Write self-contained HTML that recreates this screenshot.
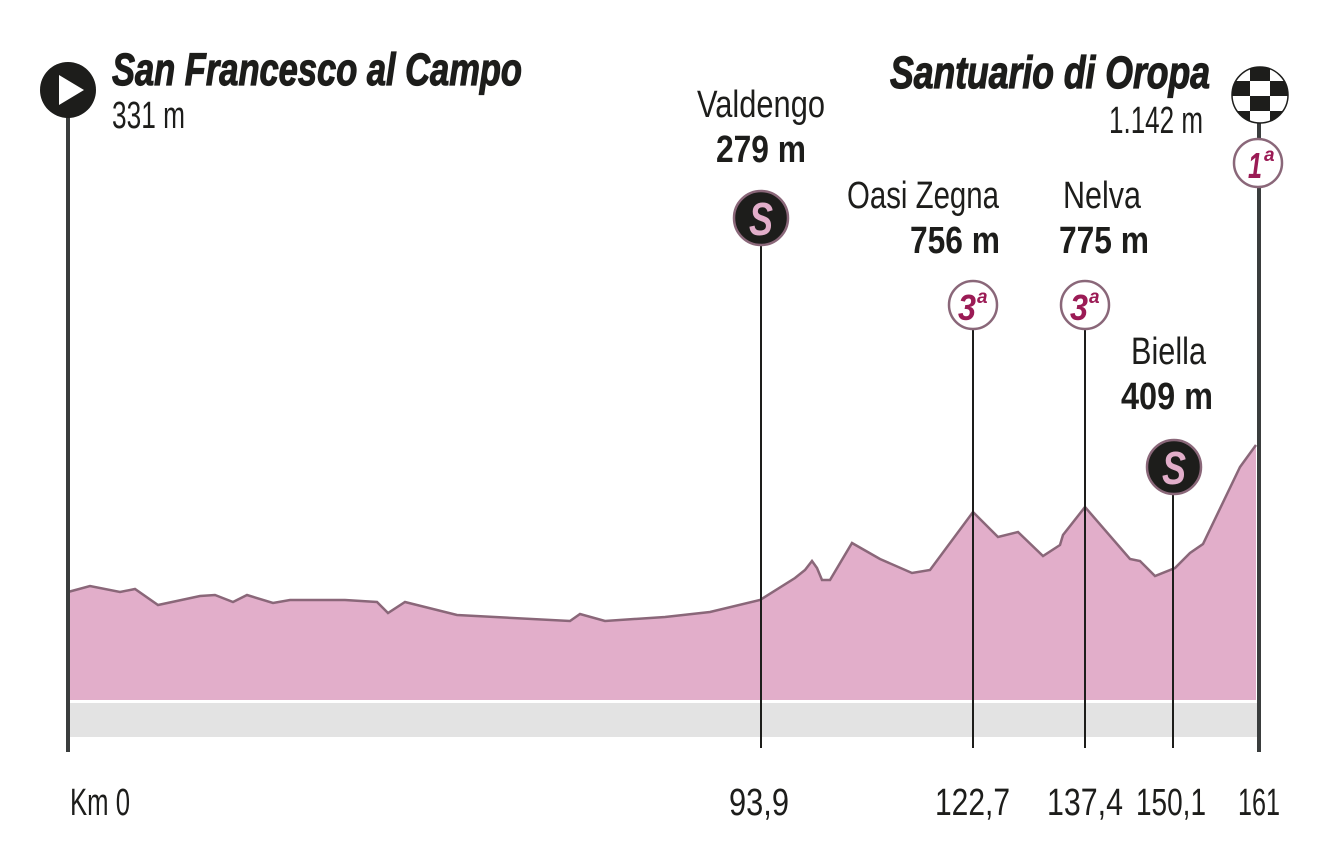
<!DOCTYPE html>
<html><head><meta charset="utf-8"><style>
html,body{margin:0;padding:0;background:#fff;}
svg{display:block;}
text{font-family:"Liberation Sans Narrow","Liberation Sans",sans-serif;fill:#1d1d1b;}
.b{font-weight:bold;}
.bi{font-weight:bold;font-style:italic;stroke:#1d1d1b;stroke-width:1.2;}
</style></head><body>
<svg width="1321" height="848" viewBox="0 0 1321 848" xmlns="http://www.w3.org/2000/svg">
<rect x="68" y="703" width="1189" height="34" fill="#e3e3e3"/>
<polygon fill="#e2aeca" points="68,700 68,592 90,586 120,592 135,589 158,605 200,596 215,595 233,602 247,595 273,603 290,600 345,600 377,602 388,613 405,602 457,615 570,621 580,614 605,621 665,617 710,612 760,600 795,578 805,570 812,561 817,568 822,580 830,580 852,543 880,559 912,573 930,570 973,512 998,537 1018,532 1043,556 1060,545 1063,535 1085,507 1130,559 1140,561 1155,576 1175,568 1190,553 1203,544 1240,467 1256,445 1256,700"/>
<polyline fill="none" stroke="#8a6779" stroke-width="2.5" points="68,592 90,586 120,592 135,589 158,605 200,596 215,595 233,602 247,595 273,603 290,600 345,600 377,602 388,613 405,602 457,615 570,621 580,614 605,621 665,617 710,612 760,600 795,578 805,570 812,561 817,568 822,580 830,580 852,543 880,559 912,573 930,570 973,512 998,537 1018,532 1043,556 1060,545 1063,535 1085,507 1130,559 1140,561 1155,576 1175,568 1190,553 1203,544 1240,467 1256,445"/>
<g stroke="#1d1d1b" stroke-width="2">
<line x1="761" y1="240" x2="761" y2="748"/>
<line x1="973" y1="320" x2="973" y2="748"/>
<line x1="1085" y1="320" x2="1085" y2="748"/>
<line x1="1173" y1="490" x2="1173" y2="748"/>
</g>
<line x1="68" y1="100" x2="68" y2="752" stroke="#3a3d3d" stroke-width="4"/>
<line x1="1259" y1="115" x2="1259" y2="752" stroke="#3a3d3d" stroke-width="4"/>
<circle cx="68" cy="90" r="28" fill="#1d1d1b"/>
<polygon points="59,75 59,105 84,90" fill="#fff"/>
<clipPath id="cc"><circle cx="1260" cy="95" r="28"/></clipPath>
<g clip-path="url(#cc)">
<rect x="1230" y="65" width="60" height="60" fill="#fff"/>
<rect x="1250" y="65" width="20" height="16" fill="#1d1d1b"/>
<rect x="1230" y="81" width="20" height="15" fill="#1d1d1b"/>
<rect x="1270" y="81" width="20" height="15" fill="#1d1d1b"/>
<rect x="1250" y="96" width="20" height="15" fill="#1d1d1b"/>
<rect x="1230" y="111" width="20" height="15" fill="#1d1d1b"/>
<rect x="1270" y="111" width="20" height="15" fill="#1d1d1b"/>
</g>
<circle cx="1260" cy="95" r="28" fill="none" stroke="#1d1d1b" stroke-width="1.5"/>
<g fill="#fff" stroke="#8a6779" stroke-width="2.5">
<circle cx="1258" cy="163" r="24"/>
<circle cx="973" cy="305" r="24"/>
<circle cx="1085" cy="305" r="24"/>
</g>
<g font-weight="bold" font-style="italic">
<text x="1255" y="178" font-size="36" text-anchor="middle" style="fill:#9b1b55" textLength="14" lengthAdjust="spacingAndGlyphs">1</text><text x="1264" y="161" font-size="19" style="fill:#9b1b55">a</text>
<text x="967" y="320" font-size="36" text-anchor="middle" style="fill:#9b1b55" textLength="18" lengthAdjust="spacingAndGlyphs">3</text><text x="977" y="303" font-size="19" style="fill:#9b1b55">a</text>
<text x="1079" y="320" font-size="36" text-anchor="middle" style="fill:#9b1b55" textLength="18" lengthAdjust="spacingAndGlyphs">3</text><text x="1089" y="303" font-size="19" style="fill:#9b1b55">a</text>
</g>
<g fill="#1d1d1b" stroke="#8a6779" stroke-width="2.5">
<circle cx="761" cy="218" r="27"/>
<circle cx="1174" cy="467" r="27"/>
</g>
<text x="761" y="235" font-size="46" font-weight="bold" font-style="italic" text-anchor="middle" style="fill:#e2aeca" textLength="24" lengthAdjust="spacingAndGlyphs">S</text>
<text x="1174" y="484" font-size="46" font-weight="bold" font-style="italic" text-anchor="middle" style="fill:#e2aeca" textLength="24" lengthAdjust="spacingAndGlyphs">S</text>
<text x="112" y="85" font-size="45" class="bi" textLength="410" lengthAdjust="spacingAndGlyphs">San Francesco al Campo</text>
<text x="112" y="128" font-size="38" textLength="73" lengthAdjust="spacingAndGlyphs">331 m</text>
<text x="890" y="88" font-size="45" class="bi" textLength="320" lengthAdjust="spacingAndGlyphs">Santuario di Oropa</text>
<text x="1109" y="133" font-size="38" textLength="94" lengthAdjust="spacingAndGlyphs">1.142 m</text>
<text x="697" y="117" font-size="38" textLength="128" lengthAdjust="spacingAndGlyphs">Valdengo</text>
<text x="716" y="162" font-size="38" class="b" textLength="90" lengthAdjust="spacingAndGlyphs">279 m</text>
<text x="847" y="208" font-size="38" textLength="152" lengthAdjust="spacingAndGlyphs">Oasi Zegna</text>
<text x="910" y="253" font-size="38" class="b" textLength="90" lengthAdjust="spacingAndGlyphs">756 m</text>
<text x="1063" y="208" font-size="38" textLength="78" lengthAdjust="spacingAndGlyphs">Nelva</text>
<text x="1059" y="253" font-size="38" class="b" textLength="90" lengthAdjust="spacingAndGlyphs">775 m</text>
<text x="1131" y="364" font-size="38" textLength="75" lengthAdjust="spacingAndGlyphs">Biella</text>
<text x="1121" y="409" font-size="38" class="b" textLength="92" lengthAdjust="spacingAndGlyphs">409 m</text>
<g font-size="38">
<text x="70" y="815" textLength="60" lengthAdjust="spacingAndGlyphs">Km 0</text>
<text x="729" y="815" textLength="60" lengthAdjust="spacingAndGlyphs">93,9</text>
<text x="935" y="815" textLength="75" lengthAdjust="spacingAndGlyphs">122,7</text>
<text x="1047" y="815" textLength="76" lengthAdjust="spacingAndGlyphs">137,4</text>
<text x="1136" y="815" textLength="70" lengthAdjust="spacingAndGlyphs">150,1</text>
<text x="1238" y="815" textLength="42" lengthAdjust="spacingAndGlyphs">161</text>
</g>
</svg>
</body></html>
